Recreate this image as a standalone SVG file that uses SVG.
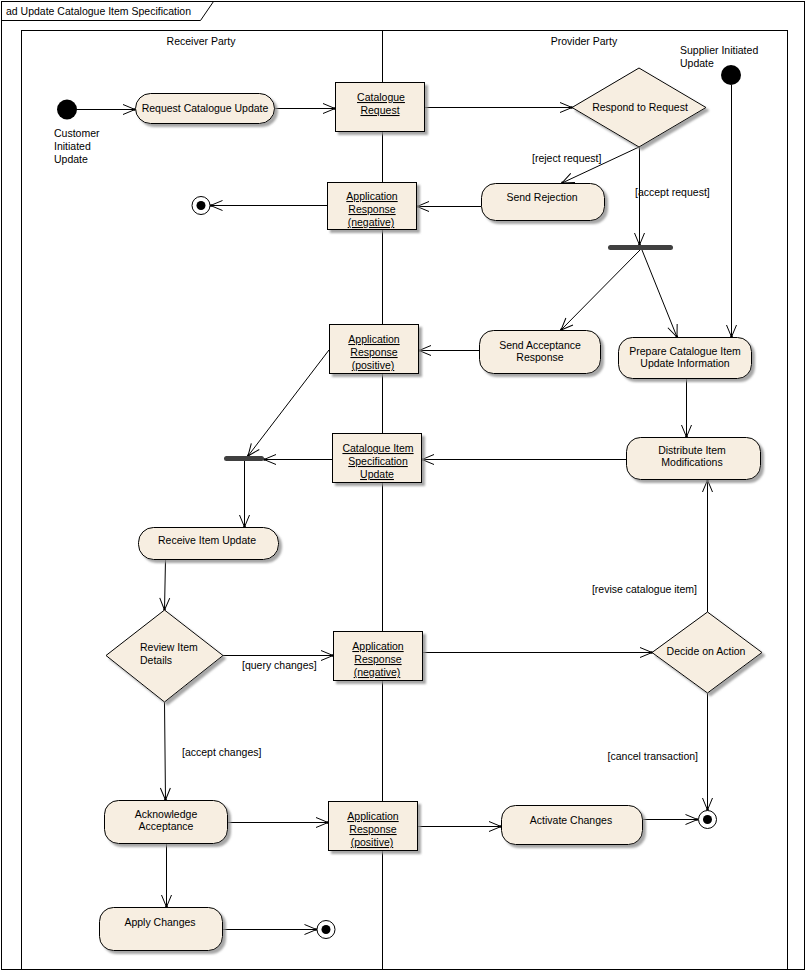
<svg xmlns="http://www.w3.org/2000/svg" width="807" height="971" viewBox="0 0 807 971">
<style>
text{font-family:"Liberation Sans",Arial,sans-serif;font-size:10.5px;fill:#000}
.c{text-anchor:middle}
.e{text-anchor:end}
.u{text-decoration:underline}
.act{fill:#F7EEE1;stroke:#000;stroke-width:1;filter:url(#sh)}
.obj{fill:#F7EEE1;stroke:#000;stroke-width:1;filter:url(#sh)}
.dec{fill:#F7EEE1;stroke:#000;stroke-width:1;filter:url(#sh)}
.frame{fill:none;stroke:#000;stroke-width:1}
.flow{fill:none;stroke:#000;stroke-width:1;marker-end:url(#arr)}
.bar{fill:#404040}
</style>
<defs>
<filter id="sh" x="-10%" y="-10%" width="130%" height="130%">
<feDropShadow dx="3" dy="3" stdDeviation="1" flood-color="#909090" flood-opacity="0.8"/>
</filter>
<marker id="arr" markerWidth="14" markerHeight="12" refX="13" refY="6" orient="auto" markerUnits="userSpaceOnUse" viewBox="0 0 14 12">
<path d="M1,1 L13,6 L1,11" fill="none" stroke="#000" stroke-width="1"/>
<circle cx="12.5" cy="6" r="1.3" fill="#000"/>
</marker>
</defs>
<rect width="807" height="971" fill="#fff"/>
<g id="frame">
<rect class="frame" x="1.5" y="1.5" width="803" height="968"/>
<path class="frame" d="M1.5,20.5 L200.5,20.5 L213.5,1.5"/>
<text x="6" y="15">ad Update Catalogue Item Specification</text>
</g>
<g id="swimlanes">
<rect class="frame" x="21.5" y="30.5" width="766" height="939"/>
<line x1="382.5" y1="30.5" x2="382.5" y2="969.5" stroke="#000"/>
<text class="c" x="201" y="45">Receiver Party</text>
<text class="c" x="584" y="45">Provider Party</text>
</g>
<g id="connectors">
<path class="flow" d="M77,109.5 L135,109.5"/>
<path class="flow" d="M274,108.5 L335,108.5"/>
<path class="flow" d="M425,107.5 L572,107.5"/>
<path class="flow" d="M639,147 L562,183"/>
<path class="flow" d="M639.5,147 L639.5,245"/>
<path class="flow" d="M481,206.5 L417,206.5"/>
<path class="flow" d="M327,205.5 L210.5,205.5"/>
<path class="flow" d="M640,250 L561,330"/>
<path class="flow" d="M642,250 L677,337"/>
<path class="flow" d="M731.5,85 L731.5,337"/>
<path class="flow" d="M479,350.5 L419,350.5"/>
<path class="flow" d="M329,350 L248,456"/>
<path class="flow" d="M686.5,378 L686.5,437"/>
<path class="flow" d="M626,459.5 L422,459.5"/>
<path class="flow" d="M333,459.5 L264,459.5"/>
<path class="flow" d="M244.5,461 L244.5,527"/>
<path class="flow" d="M165.5,559 L164.5,610"/>
<path class="flow" d="M223,655.5 L333,655.5"/>
<path class="flow" d="M422,652.5 L652,652.5"/>
<path class="flow" d="M707.5,612 L707.5,480"/>
<path class="flow" d="M707.5,693 L707.5,810"/>
<path class="flow" d="M164.5,702 L165.5,800"/>
<path class="flow" d="M227,822.5 L328,822.5"/>
<path class="flow" d="M417,826.5 L501,826.5"/>
<path class="flow" d="M642,819.5 L697.5,819.5"/>
<path class="flow" d="M166.5,843 L166.5,907"/>
<path class="flow" d="M222,929.5 L316.5,929.5"/>
<text x="532" y="162">[reject request]</text>
<text x="635" y="196">[accept request]</text>
<text x="242" y="669">[query changes]</text>
<text class="e" x="697" y="593">[revise catalogue item]</text>
<text x="182" y="756">[accept changes]</text>
<text class="e" x="698" y="760">[cancel transaction]</text>
</g>
<g id="customer-initial">
<circle cx="67" cy="109.5" r="10" fill="#000"/>
<text x="54" y="137">Customer</text>
<text x="54" y="150">Initiated</text>
<text x="54" y="163">Update</text>
</g>
<g id="supplier-initial">
<circle cx="731" cy="75" r="10" fill="#000"/>
<text x="680" y="54">Supplier Initiated</text>
<text x="680" y="67">Update</text>
</g>
<g id="request-catalogue-update">
<rect class="act" x="135.5" y="93.5" width="139" height="30" rx="15"/>
<text class="c" x="205" y="112">Request Catalogue Update</text>
</g>
<g id="catalogue-request" xml:space="preserve">
<rect class="obj" x="335.5" y="82.5" width="89" height="49"/>
<text class="c u" x="381" y="101">Catalogue </text>
<text class="c u" x="380" y="114">Request</text>
</g>
<g id="respond-to-request">
<polygon class="dec" points="639,68 706,107.5 639,147 572,107.5"/>
<text class="c" x="640" y="111">Respond to Request</text>
</g>
<g id="send-rejection">
<rect class="act" x="481.5" y="183.5" width="123" height="37" rx="14"/>
<text class="c" x="542" y="201">Send Rejection</text>
</g>
<g id="app-response-negative-1" xml:space="preserve">
<rect class="obj" x="327.5" y="182.5" width="89" height="47"/>
<text class="c u" x="372" y="200">Application </text>
<text class="c u" x="372" y="213">Response </text>
<text class="c u" x="371" y="226">(negative)</text>
</g>
<g id="final-1">
<circle cx="201" cy="205.5" r="9" fill="#fff" stroke="#000"/>
<circle cx="201" cy="205.5" r="4.5" fill="#000"/>
</g>
<g id="fork-1">
<rect class="bar" x="608" y="245" width="65" height="5" rx="2.5"/>
</g>
<g id="send-acceptance-response">
<rect class="act" x="479.5" y="330.5" width="121" height="43" rx="14"/>
<text class="c" x="540" y="349">Send Acceptance</text>
<text class="c" x="540" y="361">Response</text>
</g>
<g id="prepare-catalogue-item">
<rect class="act" x="618.5" y="337.5" width="133" height="41" rx="14"/>
<text class="c" x="685" y="355">Prepare Catalogue Item</text>
<text class="c" x="685" y="367">Update Information</text>
</g>
<g id="app-response-positive-1" xml:space="preserve">
<rect class="obj" x="329.5" y="324.5" width="89" height="49"/>
<text class="c u" x="374" y="343">Application </text>
<text class="c u" x="374" y="356">Response </text>
<text class="c u" x="373" y="369">(positive)</text>
</g>
<g id="catalogue-item-specification-update" xml:space="preserve">
<rect class="obj" x="332.5" y="433.5" width="89" height="49"/>
<text class="c u" x="378" y="452">Catalogue Item </text>
<text class="c u" x="378" y="465">Specification </text>
<text class="c u" x="377" y="478">Update</text>
</g>
<g id="distribute-item-modifications">
<rect class="act" x="626.5" y="437.5" width="134" height="42" rx="14"/>
<text class="c" x="692" y="454">Distribute Item</text>
<text class="c" x="692" y="466">Modifications</text>
</g>
<g id="fork-2">
<rect class="bar" x="224" y="456" width="40" height="5" rx="2.5"/>
</g>
<g id="receive-item-update">
<rect class="act" x="138.5" y="527.5" width="140" height="32" rx="15"/>
<text class="c" x="207" y="544">Receive Item Update</text>
</g>
<g id="review-item-details">
<polygon class="dec" points="164.5,610 223,655.5 164.5,702 106,655.5"/>
<text x="140" y="651">Review Item</text>
<text x="140" y="664">Details</text>
</g>
<g id="app-response-negative-2" xml:space="preserve">
<rect class="obj" x="333.5" y="631.5" width="89" height="49"/>
<text class="c u" x="378" y="650">Application </text>
<text class="c u" x="378" y="663">Response </text>
<text class="c u" x="377" y="676">(negative)</text>
</g>
<g id="decide-on-action">
<polygon class="dec" points="707.5,612 762,652.5 707.5,693 652,652.5"/>
<text class="c" x="706" y="655">Decide on Action</text>
</g>
<g id="acknowledge-acceptance">
<rect class="act" x="104.5" y="800.5" width="123" height="43" rx="14"/>
<text class="c" x="166" y="818">Acknowledge</text>
<text class="c" x="166" y="830">Acceptance</text>
</g>
<g id="app-response-positive-2" xml:space="preserve">
<rect class="obj" x="328.5" y="801.5" width="89" height="49"/>
<text class="c u" x="373" y="820">Application </text>
<text class="c u" x="373" y="833">Response </text>
<text class="c u" x="372" y="846">(positive)</text>
</g>
<g id="activate-changes">
<rect class="act" x="501.5" y="805.5" width="141" height="39" rx="14"/>
<text class="c" x="571" y="824">Activate Changes</text>
</g>
<g id="final-3">
<circle cx="707.5" cy="819.5" r="9" fill="#fff" stroke="#000"/>
<circle cx="707.5" cy="819.5" r="4.5" fill="#000"/>
</g>
<g id="apply-changes">
<rect class="act" x="99.5" y="907.5" width="123" height="43" rx="14"/>
<text class="c" x="160" y="926">Apply Changes</text>
</g>
<g id="final-2">
<circle cx="326" cy="929.5" r="9" fill="#fff" stroke="#000"/>
<circle cx="326" cy="929.5" r="4.5" fill="#000"/>
</g>
</svg>
